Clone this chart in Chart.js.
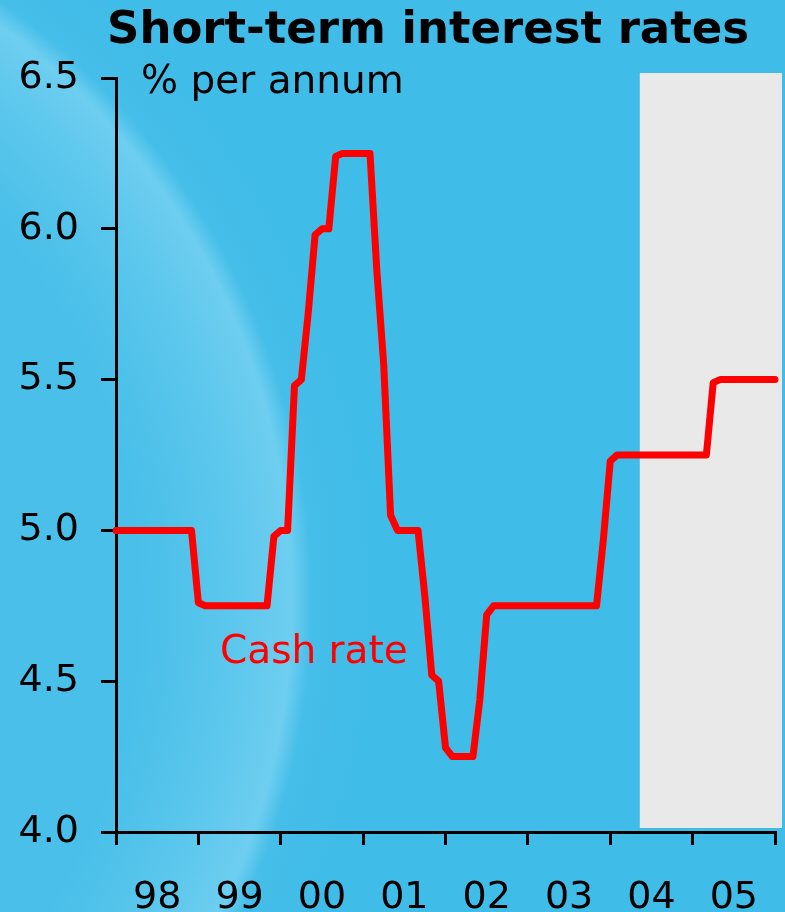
<!doctype html>
<html lang="en">
<head>
<meta charset="UTF-8"/>
<title>Short-term interest rates</title>
<script src="https://cdn.jsdelivr.net/npm/chart.js@4/dist/chart.umd.min.js"></script>
<style>
  html, body { margin: 0; padding: 0; background: #40bbe7; }
</style>
</head>
<body>
<canvas id="rateChart" width="785" height="912"></canvas>
<script>
    // Monthly average cash rate, Dec 1997 .. Dec 2005 (plotted at month end)
    const rates = [
        5.00, 5.00, 5.00, 5.00, 5.00, 5.00, 5.00, 5.00, 5.00, 5.00, 5.00, 5.00,
        4.76, 4.75, 4.75, 4.75, 4.75, 4.75, 4.75, 4.75, 4.75, 4.75, 4.75,
        4.98, 5.00, 5.00, 5.48, 5.50, 5.72, 5.98, 6.00, 6.00, 6.24,
        6.25, 6.25, 6.25, 6.25, 6.25,
        5.86, 5.55, 5.05, 5.00, 5.00, 5.00, 5.00,
        4.78, 4.52, 4.50, 4.28, 4.25, 4.25, 4.25, 4.25, 4.44, 4.72,
        4.75, 4.75, 4.75, 4.75, 4.75, 4.75, 4.75, 4.75,
        4.75, 4.75, 4.75, 4.75, 4.75, 4.75, 4.75, 4.75,
        4.97, 5.23,
        5.25, 5.25, 5.25, 5.25, 5.25, 5.25, 5.25, 5.25, 5.25, 5.25, 5.25, 5.25, 5.25, 5.25,
        5.49, 5.50, 5.50, 5.50, 5.50, 5.50, 5.50, 5.50, 5.50, 5.50
    ];
    const yearLabels = ['98', '99', '00', '01', '02', '03', '04', '05'];
    const forecastFrom = 76.3; // month index where the shaded period begins

    const font = 'DejaVu Sans';
    const blue = 'rgb(64,188,232)';

    const backdrop = {
        id: 'backdrop',
        beforeDraw(chart) {
            const {ctx, chartArea, scales} = chart;
            ctx.save();
            ctx.fillStyle = blue;
            ctx.fillRect(0, 0, chart.width, chart.height);

            // light swirl on the left
            const g = ctx.createRadialGradient(-420, 600, 0, -420, 600, 800);
            g.addColorStop(0, 'rgba(150,220,245,0.12)');
            g.addColorStop(0.70, 'rgba(150,220,245,0.10)');
            g.addColorStop(0.82, 'rgba(160,225,248,0.30)');
            g.addColorStop(0.89, 'rgba(165,228,250,0.45)');
            g.addColorStop(0.915, 'rgba(165,228,250,0.05)');
            g.addColorStop(1, 'rgba(160,225,248,0)');
            ctx.fillStyle = g;
            ctx.fillRect(0, 0, chart.width, chart.height);

            // shaded period
            const x0 = scales.x.getPixelForValue(forecastFrom);
            ctx.fillStyle = 'rgb(233,233,233)';
            ctx.fillRect(x0, chartArea.top - 5, chartArea.right + 7 - x0, chartArea.bottom - 4 - (chartArea.top - 5));
            ctx.restore();
        }
    };

    const texts = {
        id: 'texts',
        afterDraw(chart) {
            const {ctx, scales} = chart;
            ctx.save();
            ctx.fillStyle = '#000';
            ctx.textBaseline = 'alphabetic';

            ctx.font = `bold 45px "${font}"`;
            ctx.textAlign = 'center';
            ctx.fillText('Short-term interest rates', 428, 43);

            ctx.font = `39px "${font}"`;
            ctx.textAlign = 'left';
            ctx.fillText('% per annum', 141, 93);

            ctx.font = `38px "${font}"`;
            ctx.textAlign = 'center';
            yearLabels.forEach((lab, i) => {
                ctx.fillText(lab, scales.x.getPixelForValue(i * 12 + 6), 908);
            });

            ctx.fillStyle = '#ff0000';
            ctx.font = `39px "${font}"`;
            ctx.textAlign = 'left';
            ctx.fillText('Cash rate', 220, 663);
            ctx.restore();
        }
    };

    new Chart(document.getElementById('rateChart'), {
        type: 'line',
        data: {
            datasets: [{
                data: rates.map((v, i) => ({x: i, y: v})),
                borderColor: '#ff0000',
                borderWidth: 7,
                pointRadius: 0,
                borderJoinStyle: 'round',
                borderCapStyle: 'round',
                tension: 0,
                clip: false
            }]
        },
        plugins: [backdrop, texts],
        options: {
            responsive: false,
            animation: false,
            layout: {padding: {top: 78, right: 10, left: 0, bottom: 0}},
            plugins: {legend: {display: false}, tooltip: {enabled: false}, title: {display: false}},
            scales: {
                x: {
                    type: 'linear',
                    min: 0,
                    max: 96,
                    afterFit: (s) => { s.height = 80; },
                    ticks: {stepSize: 12, display: false},
                    grid: {drawOnChartArea: false, drawTicks: true, tickLength: 13, color: '#000', lineWidth: 3},
                    border: {display: true, color: '#000', width: 3}
                },
                y: {
                    min: 4,
                    max: 6.5,
                    afterFit: (s) => { s.width = 116; },
                    ticks: {
                        stepSize: 0.5,
                        padding: 22,
                        color: '#000',
                        font: {family: font, size: 38},
                        callback: (v) => v.toFixed(1)
                    },
                    grid: {drawOnChartArea: false, drawTicks: true, tickLength: 15, color: '#000', lineWidth: 3},
                    border: {display: true, color: '#000', width: 3}
                }
            }
        }
    });
</script>
</body>
</html>
